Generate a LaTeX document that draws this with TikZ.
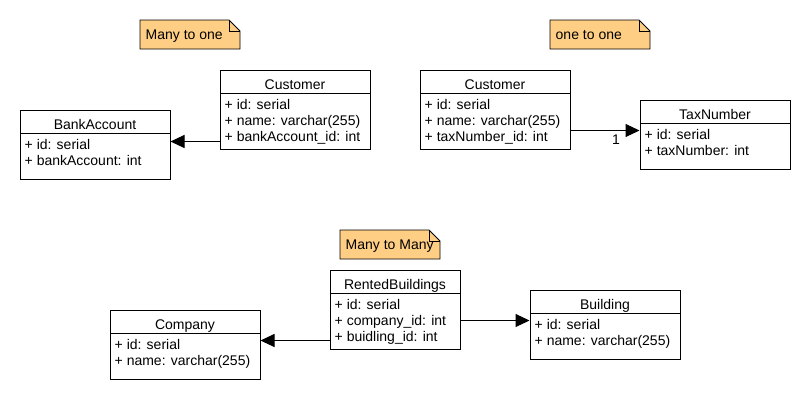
\documentclass[tikz,border=0pt]{standalone}
\usepackage{fontspec}
\setmainfont{Liberation Sans}
\usetikzlibrary{arrows.meta,fit}
\definecolor{notefill}{RGB}{255,206,133}
\tikzset{
  ebox/.style={draw=black, line width=1pt, inner sep=0pt, fill=white},
  divline/.style={draw=black, line width=1pt},
  etitle/.style={anchor=base, inner sep=0pt, font=\fontsize{14}{16}\selectfont},
  erow/.style={anchor=base west, inner sep=0pt, font=\fontsize{14}{16}\selectfont},
  notebox/.style={draw=black, line width=0.8pt, fill=notefill},
  ntext/.style={anchor=base west, inner sep=0pt, font=\fontsize{14}{16}\selectfont},
  arr/.style={draw=black, line width=1pt, -{Triangle[length=14pt,width=13pt]}},
}
\newcommand\erent[8]{%
  \node[ebox, fit={(#2,#3) (#4,#5)}] (#1) {};
  \draw[divline] (#2,#6) -- (#4,#6);
  \node[etitle] (#1-t) at ({(#2+#4)/2},{#6-4}) {#7};
  \foreach \r [count=\i] in {#8} \node[erow] (#1-r\i) at ({#2+4.5},{#6+16*\i}) {\r};
}
\newcommand\umlnote[6]{%
  \draw[notebox] (#2,#3) -- ({#4-11},#3) -- (#4,{#3+11}) -- (#4,#5) -- (#2,#5) -- cycle;
  \draw[line width=0.6pt] ({#4-11},#3) -- ({#4-11},{#3+11}) -- (#4,{#3+11});
  \node[ntext] (#1) at ({#2+5.5},{#3+19}) {#6};
}
\begin{document}
\begin{tikzpicture}[x=1pt,y=-1pt]
\useasboundingbox[fill=white] (0,0) rectangle (810,400);

% notes
\umlnote{n1}{140}{20}{240}{49}{Many to one}
\umlnote{n2}{550}{20}{650}{49}{one to one}
\umlnote{n3}{340}{230}{440}{259}{Many to Many}

% entities
\erent{bank}{20}{110}{170}{179}{133}{BankAccount}{+ id: serial,+ bankAccount: int}
\erent{custa}{220}{70}{370}{149}{93}{Customer}{+ id: serial,+ name: varchar(255),+ bankAccount\_id: int}
\erent{custb}{420}{70}{570}{149}{93}{Customer}{+ id: serial,+ name: varchar(255),+ taxNumber\_id: int}
\erent{tax}{640}{100}{790}{169}{123}{TaxNumber}{+ id: serial,+ taxNumber: int}
\erent{comp}{110}{310}{260}{379}{333}{Company}{+ id: serial,+ name: varchar(255)}
\erent{rent}{330}{270}{460}{349}{293}{RentedBuildings}{+ id: serial,+ company\_id: int,+ buidling\_id: int}
\erent{bldg}{530}{290}{680}{359}{313}{Building}{+ id: serial,+ name: varchar(255)}

% connectors
\path (custa.south west) ++(0,-8) coordinate (ca);
\draw[arr] (ca) -- (ca -| bank.east);
\path (custb.south east) ++(0,-19) coordinate (cb);
\draw[arr] (cb) -- (cb -| tax.west);
\node[etitle] (one) at (616,144) {1};
\path (rent.south west) ++(0,-9) coordinate (ra);
\draw[arr] (ra) -- (ra -| comp.east);
\path (rent.south east) ++(0,-29) coordinate (rb);
\draw[arr] (rb) -- (rb -| bldg.west);
\end{tikzpicture}
\end{document}
